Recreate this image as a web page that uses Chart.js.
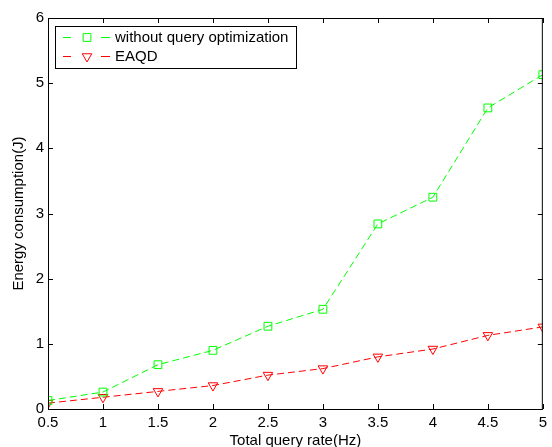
<!DOCTYPE html>
<html>
<head>
<meta charset="utf-8">
<script src="https://cdn.jsdelivr.net/npm/chart.js@4/dist/chart.umd.min.js"></script>
<style>
  body { margin: 0; background: #fff; }
  canvas { display: block; }
</style>
</head>
<body>
<canvas id="chart" width="552" height="447"></canvas>
<script>
// data
var queryRate = [0.5, 1, 1.5, 2, 2.5, 3, 3.5, 4, 4.5, 5];
var withoutOpt = [0.13, 0.26, 0.68, 0.9, 1.27, 1.53, 2.84, 3.25, 4.62, 5.13];
var eaqd = [0.09, 0.18, 0.27, 0.36, 0.52, 0.62, 0.8, 0.92, 1.13, 1.26];
var xTicks = [0.5, 1, 1.5, 2, 2.5, 3, 3.5, 4, 4.5, 5];
var yTicks = [0, 1, 2, 3, 4, 5, 6];
var seriesNames = ['without query optimization', 'EAQD'];

var FONT = '"Liberation Sans", Arial, Helvetica, sans-serif';

function toPoints(xs, ys) {
  return xs.map(function (x, i) { return { x: x, y: ys[i] }; });
}

// box, inward ticks on all four sides, and the legend inside the axes
var matlabAxes = {
  id: 'matlabAxes',
  afterDraw: function (chart) {
    var ctx = chart.ctx, a = chart.chartArea;
    var xs = chart.scales.x, ys = chart.scales.y;
    ctx.save();
    ctx.strokeStyle = '#000';
    ctx.lineWidth = 1;
    ctx.setLineDash([]);
    ctx.beginPath();
    xTicks.forEach(function (v) {
      var px = Math.round(xs.getPixelForValue(v)) + 0.5;
      ctx.moveTo(px, a.bottom); ctx.lineTo(px, a.bottom - 5);
      ctx.moveTo(px, a.top); ctx.lineTo(px, a.top + 5);
    });
    yTicks.forEach(function (v) {
      var py = Math.round(ys.getPixelForValue(v)) + 0.5;
      ctx.moveTo(a.left, py); ctx.lineTo(a.left + 5, py);
      ctx.moveTo(a.right, py); ctx.lineTo(a.right - 5, py);
    });
    ctx.stroke();
    ctx.strokeRect(a.left + 0.5, a.top + 0.5, a.right - a.left - 1, a.bottom - a.top);

    // legend
    var lx = 55, ly = 26, lw = 241, lh = 42;
    ctx.fillStyle = '#fff';
    ctx.fillRect(lx, ly, lw, lh);
    ctx.strokeRect(lx + 0.5, ly + 0.5, lw, lh);
    var rows = [37, 56];
    chart.data.datasets.forEach(function (ds, i) {
      var y = rows[i] + 0.5;
      ctx.strokeStyle = ds.borderColor;
      ctx.lineWidth = 1;
      ctx.beginPath();
      ctx.moveTo(63, y); ctx.lineTo(71, y);
      ctx.moveTo(101, y); ctx.lineTo(110, y);
      ctx.stroke();
      ctx.fillStyle = 'rgba(0,0,0,0)';
      Chart.helpers.drawPoint(ctx, {
        pointStyle: ds.pointStyle,
        rotation: ds.pointRotation || 0,
        radius: ds.pointRadius,
        borderWidth: 1
      }, 87, y);
      ctx.fillStyle = '#000';
      ctx.font = '15px ' + FONT;
      ctx.textBaseline = 'middle';
      ctx.textAlign = 'left';
      ctx.fillText(ds.label, 115, rows[i] + 1);
    });
    ctx.restore();
  }
};

new Chart(document.getElementById('chart'), {
  type: 'line',
  data: {
    datasets: [
      {
        label: seriesNames[0],
        data: toPoints(queryRate, withoutOpt),
        borderColor: '#00ff00',
        backgroundColor: 'transparent',
        borderWidth: 1,
        borderDash: [7, 4],
        pointStyle: 'rect',
        pointRadius: 5.5,
        pointBorderWidth: 1,
        pointBackgroundColor: 'transparent',
        tension: 0
      },
      {
        label: seriesNames[1],
        data: toPoints(queryRate, eaqd),
        borderColor: '#ff0000',
        backgroundColor: 'transparent',
        borderWidth: 1,
        borderDash: [7, 4],
        pointStyle: 'triangle',
        pointRotation: 180,
        pointRadius: 5.5,
        pointBorderWidth: 1,
        pointBackgroundColor: 'transparent',
        tension: 0
      }
    ]
  },
  options: {
    responsive: false,
    animation: false,
    devicePixelRatio: 1,
    layout: { padding: { top: 18, right: 9, left: 0, bottom: 0 } },
    plugins: { legend: { display: false }, tooltip: { enabled: false } },
    scales: {
      x: {
        type: 'linear',
        min: 0.5,
        max: 5,
        afterBuildTicks: function (s) { s.ticks = xTicks.map(function (v) { return { value: v }; }); },
        afterFit: function (s) { s.height = 38; },
        grid: { display: false, drawTicks: false },
        border: { display: false },
        ticks: { color: '#000', padding: 5, maxRotation: 0, font: { size: 15, family: FONT },
          callback: function (v) { return String(v); } },
        title: { display: true, text: 'Total query rate(Hz)', color: '#000', padding: { top: 0, bottom: -3 }, font: { size: 15, family: FONT } }
      },
      y: {
        type: 'linear',
        min: 0,
        max: 6,
        afterBuildTicks: function (s) { s.ticks = yTicks.map(function (v) { return { value: v }; }); },
        afterFit: function (s) { s.width = 48; },
        grid: { display: false, drawTicks: false },
        border: { display: false },
        ticks: { color: '#000', padding: 4, font: { size: 15, family: FONT },
          callback: function (v) { return String(v); } },
        title: { display: true, text: 'Energy consumption(J)', color: '#000', padding: { top: 10, bottom: 0 }, font: { size: 15, family: FONT } }
      }
    }
  },
  plugins: [matlabAxes]
});
</script>
</body>
</html>
